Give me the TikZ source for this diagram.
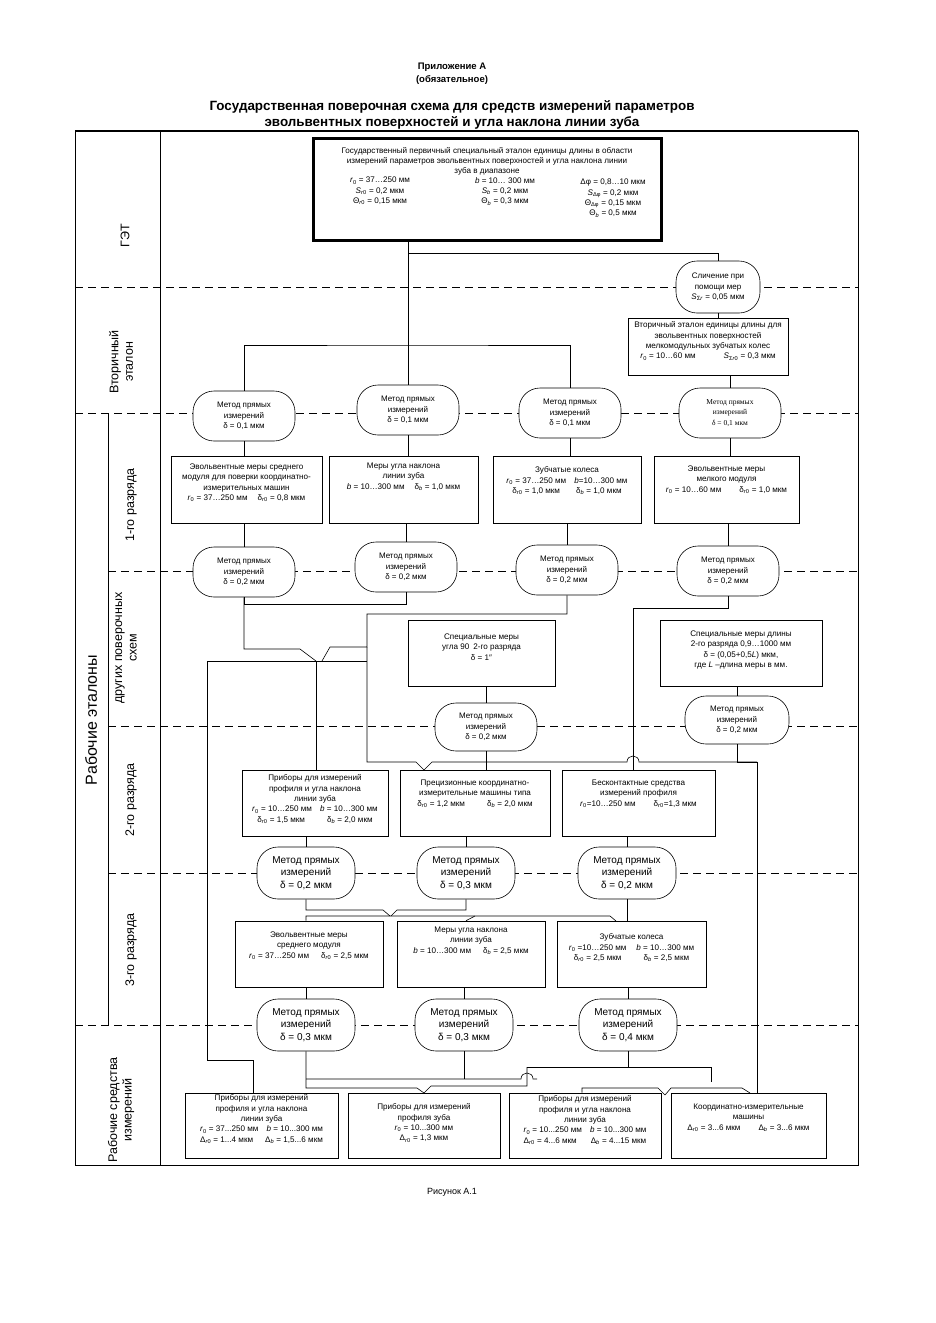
\documentclass[tikz,border=0pt]{standalone}
\usepackage{fontspec}
\setmainfont{Liberation Sans}
\newfontfamily\serifE{Liberation Serif}
\newcommand{\xr}{\textit{r}\textsubscript{0}}
\newcommand{\xb}{\textit{b}}
\newcommand{\xdr}{δ\textsubscript{\textit{r}0}}
\newcommand{\xdb}{δ\textsubscript{\textit{b}}}
\newcommand{\xDr}{Δ\textsubscript{\textit{r}0}}
\newcommand{\xDb}{Δ\textsubscript{\textit{b}}}
\newcommand{\gbox}[7]{%
  \node[box, minimum width=#4pt, minimum height=#5pt] (#1) at (#2,#3) {};
  \node[txt, anchor=north] (#1-t) at ([yshift=-#6pt]#1.north) {#7};}
\begin{document}
\begin{tikzpicture}[x=1pt,y=-1pt,
  box/.style={draw, line width=0.6pt, inner sep=0pt, fill=white},
  ell/.style={draw, line width=0.6pt, rounded corners=21pt, fill=white, inner sep=0pt, align=center, font=\fontsize{8}{10.5}\selectfont},
  bell/.style={ell, font=\fontsize{10}{12.3}\selectfont},
  txt/.style={inner sep=0pt, align=center, font=\fontsize{8.1}{10.3}\selectfont},
  ln/.style={line width=0.6pt},
  sep/.style={line width=0.6pt, dash pattern=on 8pt off 5pt},
  lab/.style={rotate=90, align=center, font=\fontsize{12.5}{14.5}\selectfont, inner sep=0pt}]
\useasboundingbox (0,0) rectangle (936,1323);
\fill[white] (0,0) rectangle (936,1323);

% titles
\node[font=\bfseries\fontsize{9.5}{13}\selectfont, align=center] (app) at (452,74) {Приложение А\\(обязательное)};
\node[font=\bfseries\fontsize{13.4}{16}\selectfont, align=center] (ttl) at (452,115) {Государственная поверочная схема для средств измерений параметров\\эвольвентных поверхностей и угла наклона линии зуба};
\node[font=\fontsize{9}{10}\selectfont] (fig) at (452,1192) {Рисунок А.1};

% frame
\draw[ln] (75,131) rectangle (858,1165);
\draw[line width=1.6pt] (75,131) -- (858,131);
\draw[ln] (160,131) -- (160,1165);
\draw[ln] (108,413) -- (108,1025);
\draw[sep] (75,287) -- (858,287);
\draw[sep] (75,413) -- (858,413);
\draw[sep] (108,571) -- (858,571);
\draw[sep] (108,726) -- (858,726);
\draw[sep] (108,873) -- (858,873);
\draw[sep] (75,1025) -- (858,1025);

% labels
\node[lab] (lGET) at (125,236) {ГЭТ};
\node[lab] (lVt) at (121,362) {Вторичный\\эталон};
\node[lab] (l1) at (131,505) {1-го разряда};
\node[lab] (lDr) at (126,648) {других поверочных\\схем};
\node[lab] (l2) at (131,800) {2-го разряда};
\node[lab] (l3) at (131,950) {3-го разряда};
\node[lab, font=\fontsize{16}{18}\selectfont] (lRE) at (91,720) {Рабочие эталоны};
\node[lab] (lRS) at (121,1110) {Рабочие средства\\измерений};

% top box
\node[box, line width=3.5pt, minimum width=348pt, minimum height=102pt] (top) at (487.5,189.5) {};
\node[txt, anchor=north] (top-t) at (487,147) {Государственный первичный специальный эталон единицы длины в области\\измерений параметров эвольвентных поверхностей и угла наклона линии\\зуба в диапазоне};
\node[txt, anchor=north] (top-c1) at (380,177) {\xr{} = 37…250 мм\\\textit{S}\textsubscript{\textit{r}0} = 0,2 мкм\\Θ\textsubscript{\textit{r}0} = 0,15 мкм};
\node[txt, anchor=north] (top-c2) at (505,177) {\xb{} = 10… 300 мм\\\textit{S}\textsubscript{\textit{b}} = 0,2 мкм\\Θ\textsubscript{\textit{b}} = 0,3 мкм};
\node[txt, anchor=north] (top-c3) at (613,179) {Δφ = 0,8…10 мкм\\\textit{S}\textsubscript{Δφ} = 0,2 мкм\\Θ\textsubscript{Δφ} = 0,15 мкм\\Θ\textsubscript{\textit{b}} = 0,5 мкм};

\node[ell, minimum width=84pt, minimum height=52pt] (sli) at (718,287) {Сличение при\\помощи мер\\\textit{S}\textsubscript{Σ\textit{r}} = 0,05 мкм};
\gbox{sec}{708}{346.5}{160}{57}{4}{Вторичный эталон единицы длины для\\эвольвентных поверхностей\\мелкомодульных зубчатых колес\\\xr{} = 10…60 мм\hspace{28pt}\textit{S}\textsubscript{Σ\textit{r}0} = 0,3 мкм}

% row E1
\node[ell, minimum width=102pt, minimum height=50pt] (Ea) at (244,416) {Метод прямых\\измерений\\δ = 0,1 мкм};
\node[ell, minimum width=102pt, minimum height=50pt] (Eb) at (408,410) {Метод прямых\\измерений\\δ = 0,1 мкм};
\node[ell, minimum width=102pt, minimum height=50pt] (Ec) at (570,413) {Метод прямых\\измерений\\δ = 0,1 мкм};
\node[ell, minimum width=102pt, minimum height=50pt, font=\serifE\fontsize{7.5}{10.5}\selectfont] (Ed) at (730,413) {Метод прямых\\измерений\\δ = 0,1 мкм};

% 1st grade
\gbox{Ba}{246.5}{489.5}{151}{67}{8}{Эвольвентные меры среднего\\модуля для поверки координатно-\\измерительных машин\\\xr{} = 37…250 мм\hspace{10pt}\xdr{} = 0,8 мкм}
\gbox{Bb}{403.5}{489.5}{149}{67}{7}{Меры угла наклона\\линии зуба\\\xb{} = 10…300 мм\hspace{10pt}\xdb{} = 1,0 мкм}
\gbox{Bc}{567}{489.5}{148}{67}{11}{Зубчатые колеса\\\xr{} = 37…250 мм\hspace{8pt}\xb{}=10…300 мм\\\xdr{} = 1,0 мкм\hspace{16pt}\xdb{} = 1,0 мкм}
\gbox{Bd}{726.5}{489.5}{145}{67}{10}{Эвольвентные меры\\мелкого модуля\\\xr{} = 10…60 мм\hspace{18pt}\xdr{} = 1,0 мкм}

% row E2
\node[ell, minimum width=102pt, minimum height=50pt] (Ha) at (244,572) {Метод прямых\\измерений\\δ = 0,2 мкм};
\node[ell, minimum width=102pt, minimum height=50pt] (Hb) at (406,567) {Метод прямых\\измерений\\δ = 0,2 мкм};
\node[ell, minimum width=102pt, minimum height=50pt] (Hc) at (567,570) {Метод прямых\\измерений\\δ = 0,2 мкм};
\node[ell, minimum width=102pt, minimum height=50pt] (Hd) at (728,571) {Метод прямых\\измерений\\δ = 0,2 мкм};

% special
\gbox{Sa}{481.5}{653}{147}{66}{14}{Специальные меры\\угла 90\enspace 2-го разряда\\δ = 1″}
\gbox{Sb}{741}{653}{162}{66}{11}{Специальные меры длины\\2-го разряда 0,9…1000 мм\\δ = (0,05+0,5\textit{L}) мкм,\\где \textit{L} –длина меры в мм.}
\node[ell, minimum width=102pt, minimum height=48pt] (EA) at (486,727) {Метод прямых\\измерений\\δ = 0,2 мкм};
\node[ell, minimum width=104pt, minimum height=48pt] (EB) at (737,720) {Метод прямых\\измерений\\δ = 0,2 мкм};

% 2nd grade
\gbox{Ga}{315}{803}{146}{66}{5}{Приборы для измерений\\профиля и угла наклона\\линии зуба\\\xr{} = 10…250 мм\hspace{8pt}\xb{} = 10…300 мм\\\xdr{} = 1,5 мкм\hspace{22pt}\xdb{} = 2,0 мкм}
\gbox{Gb}{475}{803}{150}{66}{10}{Прецизионные координатно-\\измерительные машины типа\\\xdr{} = 1,2 мкм\hspace{22pt}\xdb{} = 2,0 мкм}
\gbox{Gc}{638.5}{803}{153}{66}{10}{Бесконтактные средства\\измерений профиля\\\xr{}=10…250 мм\hspace{18pt}\xdr{}=1,3 мкм}

% row D
\node[bell, minimum width=98pt, minimum height=52pt] (Da) at (306,873) {Метод прямых\\измерений\\δ = 0,2 мкм};
\node[bell, minimum width=98pt, minimum height=52pt] (Db) at (466,873) {Метод прямых\\измерений\\δ = 0,3 мкм};
\node[bell, minimum width=98pt, minimum height=52pt] (Dc) at (627,873) {Метод прямых\\измерений\\δ = 0,2 мкм};

% 3rd grade
\gbox{Fa}{309}{954}{148}{66}{11}{Эвольвентные меры\\среднего модуля\\\xr{} = 37…250 мм\hspace{12pt}\xdr{} = 2,5 мкм}
\gbox{Fb}{471}{954}{148}{66}{6}{Меры угла наклона\\линии зуба\\\xb{} = 10…300 мм\hspace{12pt}\xdb{} = 2,5 мкм}
\gbox{Fc}{631.5}{954}{149}{66}{13}{Зубчатые колеса\\\xr{} =10…250 мм\hspace{10pt}\xb{} = 10…300 мм\\\xdr{} = 2,5 мкм\hspace{22pt}\xdb{} = 2,5 мкм}

% row C
\node[bell, minimum width=98pt, minimum height=52pt] (Ca) at (306,1025) {Метод прямых\\измерений\\δ = 0,3 мкм};
\node[bell, minimum width=98pt, minimum height=52pt] (Cb) at (464,1025) {Метод прямых\\измерений\\δ = 0,3 мкм};
\node[bell, minimum width=98pt, minimum height=52pt] (Cc) at (628,1025) {Метод прямых\\измерений\\δ = 0,4 мкм};

% bottom
\gbox{Wa}{261.5}{1125.5}{153}{65}{2}{Приборы для измерений\\профиля и угла наклона\\линии зуба\\\xr{} = 37...250 мм\hspace{8pt}\xb{} = 10...300 мм\\\xDr{} = 1...4 мкм\hspace{12pt}\xDb{} = 1,5...6 мкм}
\gbox{Wb}{424}{1125.5}{152}{65}{11}{Приборы для измерений\\профиля зуба\\\xr{} = 10...300 мм\\\xDr{} = 1,3 мкм}
\gbox{Wc}{585}{1125.5}{152}{65}{3}{Приборы для измерений\\профиля и угла наклона\\линии зуба\\\xr{} = 10...250 мм\hspace{8pt}\xb{} = 10...300 мм\\\xDr{} = 4...6 мкм\hspace{14pt}\xDb{} = 4...15 мкм}
\gbox{Wd}{748.5}{1125.5}{155}{65}{11}{Координатно-измерительные\\машины\\\xDr{} = 3...6 мкм\hspace{18pt}\xDb{} = 3...6 мкм}

% ---------- connectors ----------
\coordinate (j0) at (408,253);
\coordinate (j1) at (408,345);
\draw[ln] (Eb.north |- top.south) -- (Eb.north);
\draw[ln] (j0) -| (sli.north);
\draw[ln] (Ea.north) |- (j1) -| (Ec.north);
\draw[ln] (sli.south) -- (sli.south |- sec.north);
\draw[ln] (Ed.north |- sec.south) -- (Ed.north);
\foreach \a/\b in {Ea/Ba, Eb/Bb, Ec/Bc, Ed/Bd} \draw[ln] (\a.south) -- (\a.south |- \b.north);
\foreach \a/\b in {Ha/Ba, Hb/Bb, Hc/Bc, Hd/Bd} \draw[ln] (\a.north |- \b.south) -- (\a.north);

% below row E2
\coordinate (h1) at (244,604);
\coordinate (v1) at (316,661);
\coordinate (v1r) at (322,661);
\coordinate (bL) at (207,661);
\coordinate (bR) at (367,661);
\draw[ln] (Hb.south) |- (h1) -- (Ha.south);
\draw[ln] (Ha.south) -- (244,649) -- (300,649) -- (v1);
\draw[ln] (Hc.south) -- (567,614) -- (367,614) -- (367,647) -- (330,647) -- (v1r);
\draw[ln] (bL) -- (bR);
\draw[ln] (v1) -- (v1 |- Ga.north);
\coordinate (g2) at (424,770);
\draw[ln] (367,647) -- (367,762) -- (416,762) -- (g2);
\draw[ln] (g2) -- (432,762) -- (627,762) .. controls (627,754) and (639,754) .. (639,762) -- (757,762);
\draw[ln] (Sa.south -| EA.south) -- (EA.north);
\draw[ln] (EB.north |- Sb.south) -- (EB.north);
\draw[ln] (EA.south) -- (EA.south |- g2);
\coordinate (eb1) at (737,762);
\draw[ln] (EB.south) -- (eb1);
\coordinate (x633) at (633,0);
\draw[ln] (Hd.south) |- (633,608) -- (Gc.north -| x633);

% 2nd grade to row D
\foreach \a/\b in {Da/Ga, Db/Gb, Dc/Gc} \draw[ln] (\a.north |- \b.south) -- (\a.north);
% row D to 3rd grade
\coordinate (f3) at (616,921);
\draw[ln] (Da.south) -- (306,910) -- (383,910) -- (390,916);
\draw[ln] (Db.south) -- (466,910) -- (397,910) -- (391,916);
\draw[ln] (Fa.north -| Da.south) -- (306,916) -- (610,916) -- (f3);
\draw[ln] (475,916) -- (Fb.north -| Db.south);
\draw[ln] (Dc.south) -- (Dc.south |- Fc.north);
\foreach \a/\b in {Ca/Fa, Cb/Fb, Cc/Fc} \draw[ln] (\a.north |- \b.south) -- (\a.north);

% bottom network
\coordinate (x253) at (253,0);
\coordinate (x757) at (757,0);
\coordinate (x582) at (582,0);
\draw[ln] (bL) -- (207,1060) -- (253,1060) -- (Wa.north -| x253);
\coordinate (w2) at (424,1093);
\draw[ln] (Ca.south) -- (306,1088) -- (417,1088) -- (w2);
\draw[ln] (w2) -- (431,1086) -- (527,1086) -- (527,1067);
\draw[ln] (Cb.south) -- (464,1079);
\draw[ln] (306,1079) -- (521,1079) .. controls (521,1071) and (533,1071) .. (533,1079) -- (537,1079);
\draw[ln] (Cc.south) -- (628,1067);
\draw[ln] (527,1067) -- (711,1067) -- (711,1082);
\draw[ln] (Wc.north -| x582) -- (582,1088) -- (658,1088) -- (665,1095);
\draw[ln] (665,1095) -- (671,1088) -- (742,1088) -- (750,1093);
\draw[ln] (eb1) -- (757,762) -- (Wd.north -| x757);
\end{tikzpicture}
\end{document}
